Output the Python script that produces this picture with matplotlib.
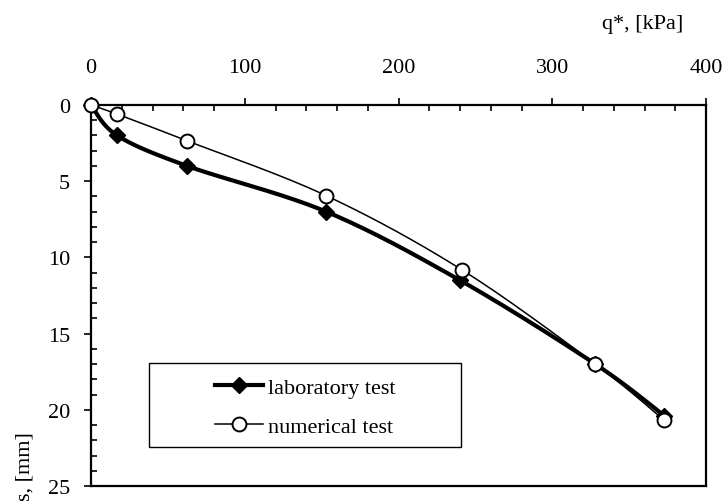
import numpy as np
import matplotlib
matplotlib.use("Agg")
import matplotlib.pyplot as plt
from matplotlib.patches import Rectangle
from matplotlib.lines import Line2D
from matplotlib.ticker import MultipleLocator

plt.rcParams['font.family'] = ['Liberation Serif', 'DejaVu Serif']

# data
lab_q = [0, 17, 62.5, 153, 240, 328, 373]
lab_s = [0, 2.0, 4.0, 7.0, 11.5, 17.0, 20.4]
num_q = [0, 17, 62.5, 153, 241, 328, 373]
num_s = [0, 0.6, 2.35, 5.95, 10.8, 17.0, 20.7]

x_label = "q*, [kPa]"
y_label = "s, [mm]"
lab_name = "laboratory test"
num_name = "numerical test"

FS = 16


def smooth(x, y, n=30):
    x = np.asarray(x, float); y = np.asarray(y, float)
    P = np.column_stack([x, y])
    P = np.vstack([P[0], P, P[-1]])
    out = []
    for i in range(1, len(P) - 2):
        p0, p1, p2, p3 = P[i - 1], P[i], P[i + 1], P[i + 2]
        t = np.linspace(0, 1, n)[:, None]
        c = 0.5 * ((2 * p1) + (-p0 + p2) * t + (2 * p0 - 5 * p1 + 4 * p2 - p3) * t ** 2
                   + (-p0 + 3 * p1 - 3 * p2 + p3) * t ** 3)
        out.append(c if i == 1 else c[1:])
    c = np.vstack(out)
    return c[:, 0], c[:, 1]


fig = plt.figure(figsize=(7.24, 5.02), dpi=100)
ax = fig.add_axes([91 / 724, 1 - 487 / 502, 615 / 724, 381 / 502])

lx, ly = smooth(lab_q, lab_s)
nx, ny = smooth(num_q, num_s)
ax.plot(lx, ly, color='black', lw=3.0, zorder=3, clip_on=False)
ax.plot(lab_q, lab_s, linestyle='none', marker='D', ms=8, color='black', zorder=4, clip_on=False)
ax.plot(nx, ny, color='black', lw=1.1, zorder=5, clip_on=False)
ax.plot(num_q, num_s, linestyle='none', marker='o', ms=10, mfc='white', mec='black', mew=1.4,
        zorder=6, clip_on=False)

ax.set_xlim(0, 400)
ax.set_ylim(25, 0)
ax.xaxis.tick_top()
ax.xaxis.set_major_locator(MultipleLocator(100))
ax.xaxis.set_minor_locator(MultipleLocator(20))
ax.yaxis.set_major_locator(MultipleLocator(5))
ax.yaxis.set_minor_locator(MultipleLocator(1))
ax.tick_params(axis='x', which='major', direction='out', length=5, width=1.2, pad=15, labelsize=FS)
ax.tick_params(axis='x', which='minor', direction='in', length=4, width=1.2)
ax.tick_params(axis='y', which='major', direction='out', length=5, width=1.2, pad=10, labelsize=FS)
ax.tick_params(axis='y', which='minor', direction='in', length=4, width=1.2)
for sp in ax.spines.values():
    sp.set_linewidth(1.6)

fig.text(643 / 724, 1 - 24 / 502, x_label, ha='center', va='center', fontsize=FS)
fig.text(25 / 724, 1 - 467 / 502, y_label, ha='center', va='center', rotation=90, fontsize=FS)

# legend
h1 = Line2D([], [], color='black', lw=3.0, marker='D', ms=8)
h2 = Line2D([], [], color='black', lw=1.1, marker='o', ms=10, mfc='white', mec='black', mew=1.4)
leg = ax.legend([h1, h2], [lab_name, num_name], loc='center',
                bbox_to_anchor=((305 - 91) / 615, (487 - 408) / 381),
                frameon=False, fontsize=FS, handlelength=2.2, handletextpad=0.2,
                labelspacing=0.85)
ax.add_patch(Rectangle(((149 - 91) / 615, (487 - 448) / 381), 312 / 615, 84 / 381,
                       transform=ax.transAxes, fill=False, edgecolor='black', lw=1.0, zorder=10))

fig.savefig("out.png", dpi=100)
